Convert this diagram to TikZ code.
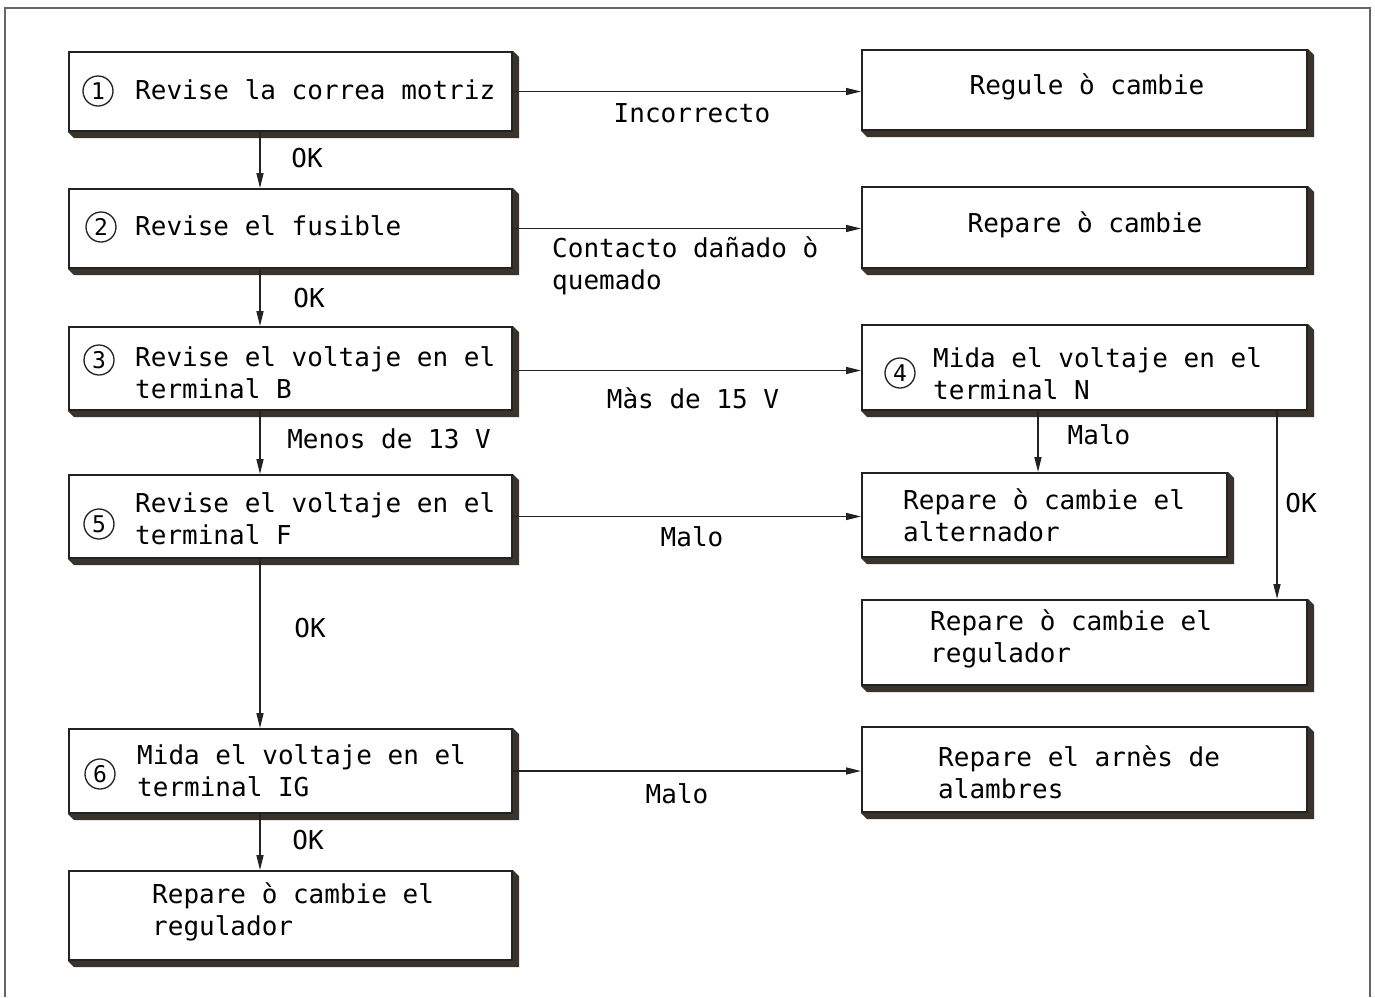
\documentclass[tikz,border=0pt]{standalone}
\usepackage{fontspec}
\usepackage{tikz}
\usetikzlibrary{arrows.meta,positioning,calc}
\newfontfamily\dgfont{DejaVu Sans Mono}
\definecolor{diagInk}{HTML}{222222}
\definecolor{diagShade}{HTML}{3A332C}
\definecolor{diagFrame}{HTML}{666666}

\tikzset{
  stepbox/.style={draw=diagInk,line width=2pt,fill=white,inner sep=0pt,
                  minimum width=443pt,minimum height=#1},
  stepbox/.default=80pt,
  boxtxt/.style={anchor=west,align=left,inner sep=0pt},
  stepnum/.style={circle,draw=diagInk,line width=1.3pt,minimum size=30pt,inner sep=0pt,
                  font=\dgfont\fontsize{23}{23}\selectfont},
  lbl/.style={inner sep=0pt},
  flow/.style={draw=diagInk,line width=1.5pt,-{Triangle[length=15pt,width=7pt]}},
}

\begin{document}
\begin{tikzpicture}[x=1pt,y=-1pt,font=\dgfont\fontsize{26}{32}\selectfont]
  \useasboundingbox (0,0) rectangle (1375,997);
  \draw[diagFrame,line width=1.2pt] (5,997) -- (5,8) -- (1370,8) -- (1370,997);

  % left column
  \node[stepbox=79pt] (b1) at (290.5,91.5) {};
  \node[stepbox=79pt] (b2) at (290.5,228.5) {};
  \node[stepbox=83pt] (b3) at (290.5,368.5) {};
  \node[stepbox=83pt] (b5) at (290.5,516.5) {};
  \node[stepbox=84pt] (b6) at (290.5,771) {};
  \node[stepbox=89pt] (b7) at (290.5,915.5) {};
  % right column
  \node[stepbox=80pt,minimum width=445pt] (r1) at (1084.5,90) {};
  \node[stepbox=81pt,minimum width=445pt] (r2) at (1084.5,227.5) {};
  \node[stepbox=85pt,minimum width=445pt] (r4) at (1084.5,367.5) {};
  \node[stepbox=84pt,minimum width=365pt] (ralt) at (1044.5,515) {};
  \node[stepbox=85pt,minimum width=445pt] (rreg) at (1084.5,642.5) {};
  \node[stepbox=85pt,minimum width=445pt] (rarn) at (1084.5,769.5) {};

  \foreach \n in {b1,b2,b3,b5,b6,b7,r1,r2,r4,ralt,rreg,rarn}
    \fill[diagShade] (\n.north east) -- ++(6,6) -- ($(\n.south east)+(6,6)$)
      -- ($(\n.south west)+(6,6)$) -- (\n.south west) -- (\n.south east) -- cycle;

  % box texts
  \node[stepnum] (n1) at (98,91) {1};
  \node[boxtxt] (t1) at (135,90) {Revise la correa motriz};
  \node[stepnum] (n2) at (101,227) {2};
  \node[boxtxt] (t2) at (135,226) {Revise el fusible};
  \node[stepnum] (n3) at (99,360) {3};
  \node[boxtxt] (t3) at (135,373) {Revise el voltaje en el\\terminal B};
  \node[stepnum] (n5) at (99,524) {5};
  \node[boxtxt] (t5) at (135,519) {Revise el voltaje en el\\terminal F};
  \node[stepnum] (n6) at (100,774) {6};
  \node[boxtxt] (t6) at (137,771) {Mida el voltaje en el\\terminal IG};
  \node[boxtxt] (t7) at (152,912) {Repare ò cambie el\\regulador};
  \node (tr1) at (1087,87) {Regule ò cambie};
  \node (tr2) at (1085,225) {Repare ò cambie};
  \node[stepnum] (n4) at (900,373) {4};
  \node[boxtxt] (t4) at (933,374) {Mida el voltaje en el\\terminal N};
  \node[boxtxt] (talt) at (903,515) {Repare ò cambie el\\alternador};
  \node[boxtxt] (treg) at (930,639) {Repare ò cambie el\\regulador};
  \node[boxtxt] (tarn) at (938,772) {Repare el arnès de\\alambres};

  % connectors
  \coordinate (vcol) at (260,0);
  \coordinate (mcol) at (1038,0);
  \coordinate (ocol) at (1277,0);
  \draw[flow] (b1.south -| vcol) -- (b2.north -| vcol);
  \draw[flow] (b2.south -| vcol) -- (b3.north -| vcol);
  \draw[flow] (b3.south -| vcol) -- (b5.north -| vcol);
  \draw[flow] (b5.south -| vcol) -- (b6.north -| vcol);
  \draw[flow] (b6.south -| vcol) -- (b7.north -| vcol);
  \draw[flow] (b1.east) -- (b1.east -| r1.west);
  \draw[flow] (b2.east) -- (b2.east -| r2.west);
  \draw[flow] ([yshift=-2pt]b3.east) -- ([yshift=-2pt]b3.east -| r4.west);
  \draw[flow] (b5.east) -- (b5.east -| ralt.west);
  \draw[flow] (b6.east) -- (b6.east -| rarn.west);
  \draw[flow] (r4.south -| mcol) -- (ralt.north -| mcol);
  \draw[flow] (r4.south -| ocol) -- (rreg.north -| ocol);

  % connector labels
  \node[lbl] (ok1) at (307,158) {OK};
  \node[lbl] (ok2) at (309,298) {OK};
  \node[lbl] (menos) at (389,439) {Menos de 13 V};
  \node[lbl] (ok3) at (310,628) {OK};
  \node[lbl] (ok4) at (308,840) {OK};
  \node[lbl] (inc) at (692,113) {Incorrecto};
  \node[lbl,anchor=west,align=left] (cont) at (552,266) {Contacto dañado ò\\quemado};
  \node[lbl] (mas) at (693,398) {Màs de 15 V};
  \node[lbl] (malo5) at (692,537) {Malo};
  \node[lbl] (malo6) at (677,794) {Malo};
  \node[lbl] (malo4) at (1099,435) {Malo};
  \node[lbl] (okr) at (1301,503) {OK};
\end{tikzpicture}
\end{document}
